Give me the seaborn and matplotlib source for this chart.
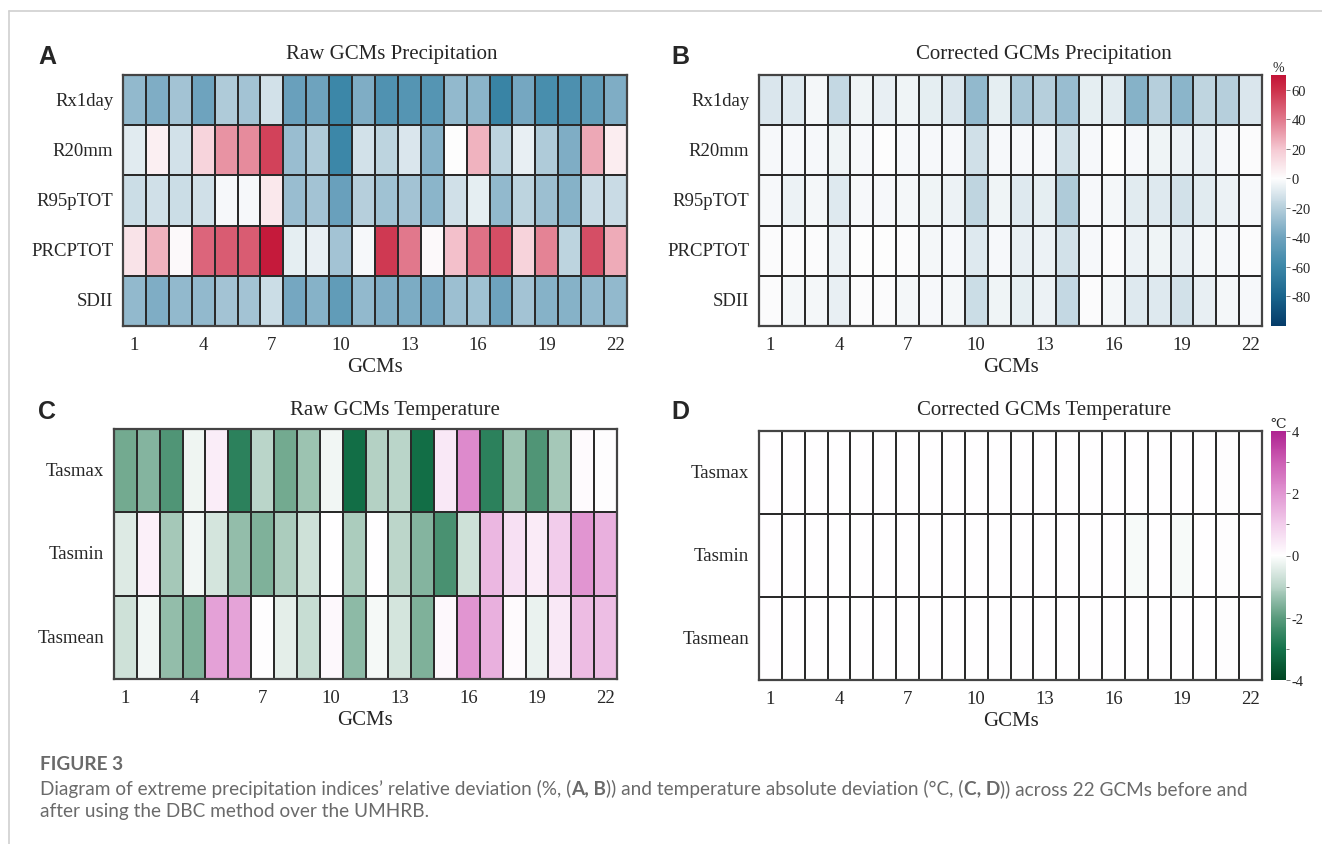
import numpy as np
import pandas as pd
import seaborn as sns
import matplotlib
matplotlib.use('Agg')
import matplotlib.pyplot as plt
from matplotlib.colors import LinearSegmentedColormap
from matplotlib.lines import Line2D
from matplotlib.ticker import MultipleLocator

sns.set_style('white')
plt.rcParams['font.family'] = ['Liberation Serif', 'DejaVu Serif']
plt.rcParams['axes.unicode_minus'] = False

gcms = [str(i) for i in range(1, 23)]
prec_indices = ['Rx1day', 'R20mm', 'R95pTOT', 'PRCPTOT', 'SDII']
temp_indices = ['Tasmax', 'Tasmin', 'Tasmean']

# raw precipitation relative deviation (%)
raw_rx1day = [-30, -35, -25, -40, -22, -25, -12, -42, -40, -60, -35, -52, -50, -50, -30, -32, -62, -38, -55, -53, -45, -35]
raw_r20mm = [-8, 5, -12, 15, 33, 35, 55, -28, -22, -60, -12, -18, -10, -33, 0, 25, -18, -6, -22, -35, 28, 6]
raw_r95ptot = [-14, -13, -14, -13, -2, -2, 8, -28, -25, -42, -20, -26, -25, -32, -13, -7, -30, -18, -27, -33, -15, -15]
raw_prcptot = [10, 25, 1, 45, 48, 48, 68, -7, -6, -25, -2, 58, 40, 1, 22, 42, 52, 16, 37, -18, 52, 27]
raw_sdii = [-30, -35, -30, -30, -25, -25, -14, -38, -33, -45, -30, -35, -36, -38, -27, -26, -40, -25, -33, -33, -30, -30]

# corrected precipitation relative deviation (%)
cor_rx1day = [-10, -9, -3, -16, -4, -6, -4, -7, -10, -30, -7, -24, -20, -28, -7, -8, -33, -20, -32, -17, -20, -10]
cor_r20mm = [-2, -2, -2, -4, -2, 0, -2, -2, -2, -13, -2, -2, -2, -12, -2, 0, -2, -4, -5, -6, -2, -1]
cor_r95ptot = [-2, -5, -3, -9, -2, -2, -3, -4, -5, -17, -4, -9, -7, -22, -2, -3, -8, -9, -12, -8, -5, -2]
cor_prcptot = [-1, -1, -1, -5, 0, 0, -1, -3, -2, -9, -2, -6, -5, -12, -2, -1, -5, -4, -6, -3, -2, -1]
cor_sdii = [-1, -3, -3, -6, -1, -1, -3, -2, -3, -14, -4, -7, -5, -16, -1, -3, -9, -9, -12, -6, -3, -2]

# raw temperature absolute deviation (degC)
raw_tasmax = [-1.75, -1.55, -2.15, -0.25, 0.35, -2.65, -1.0, -1.75, -1.3, -0.2, -3.1, -1.05, -1.0, -3.1, 0.45, 2.2, -2.65, -1.3, -2.15, -1.2, 0.1, 0.05]
raw_tasmin = [-0.5, 0.3, -1.2, -0.2, -0.6, -1.4, -1.6, -1.15, -0.7, 0.0, -1.15, 0.0, -0.95, -1.55, -2.25, -0.7, 1.4, 0.6, 0.4, 1.0, 2.0, 1.5]
raw_tasmean = [-0.7, -0.2, -1.4, -1.6, 1.8, 1.75, 0.05, -0.4, -0.8, 0.15, -1.45, -0.15, -0.6, -1.6, 0.15, 2.0, 1.5, 0.1, -0.3, 0.45, 1.3, 1.25]

# corrected temperature absolute deviation (degC)
cor_tasmax = [0, 0, 0, 0, 0, 0, 0, 0, 0, 0, 0, 0, 0, 0, 0, 0, 0, 0, 0, 0, 0.05, 0]
cor_tasmin = [0, 0, 0, 0, 0, 0, 0, 0, 0, 0, 0, 0, 0, 0, 0, 0, -0.1, 0, -0.1, 0, 0.05, 0]
cor_tasmean = [0, 0, 0, 0, 0, 0, 0, 0, 0, 0, 0, 0, 0, 0, 0, 0, 0, 0, 0, 0, 0.05, 0]

raw_prec = pd.DataFrame([raw_rx1day, raw_r20mm, raw_r95ptot, raw_prcptot, raw_sdii], index=prec_indices, columns=gcms)
cor_prec = pd.DataFrame([cor_rx1day, cor_r20mm, cor_r95ptot, cor_prcptot, cor_sdii], index=prec_indices, columns=gcms)
raw_temp = pd.DataFrame([raw_tasmax, raw_tasmin, raw_tasmean], index=temp_indices, columns=gcms)
cor_temp = pd.DataFrame([cor_tasmax, cor_tasmin, cor_tasmean], index=temp_indices, columns=gcms)


def make_cmap(name, nodes, vmin, vmax):
    return LinearSegmentedColormap.from_list(
        name, [((v - vmin) / (vmax - vmin), tuple(c / 255 for c in rgb)) for v, rgb in nodes])


prec_cmap = make_cmap('prec', [
    (-100, (5, 60, 105)), (-80, (25, 100, 140)), (-60, (60, 135, 168)),
    (-40, (110, 163, 190)), (-20, (182, 207, 220)), (0, (253, 253, 253)),
    (20, (245, 200, 210)), (40, (225, 120, 140)), (60, (205, 50, 75)),
    (70, (195, 20, 55))], -100, 70)
temp_cmap = make_cmap('temp', [
    (-4, (0, 70, 35)), (-3, (20, 115, 75)), (-2, (90, 155, 125)),
    (-1, (185, 212, 200)), (0, (255, 255, 255)), (1, (242, 205, 235)),
    (2, (225, 150, 210)), (3, (205, 95, 180)), (4, (175, 35, 145))], -4, 4)

W, H = 1322, 845
fig = plt.figure(figsize=(W / 100, H / 100), dpi=100)


def px_axes(left, top, right, bottom):
    return fig.add_axes([left / W, 1 - bottom / H, (right - left) / W, (bottom - top) / H])


ax_a = px_axes(123, 76, 627, 327)
ax_b = px_axes(759, 76, 1262, 327)
ax_c = px_axes(114, 430, 617, 680)
ax_d = px_axes(759, 432, 1262, 681)
cax_p = px_axes(1271, 76, 1286, 327)
cax_t = px_axes(1271, 432, 1286, 681)

panels = [
    (ax_a, raw_prec, prec_cmap, -100, 70, None),
    (ax_b, cor_prec, prec_cmap, -100, 70, cax_p),
    (ax_c, raw_temp, temp_cmap, -4, 4, None),
    (ax_d, cor_temp, temp_cmap, -4, 4, cax_t),
]

tick_pos = [i + 0.5 for i in range(0, 22, 3)]
tick_lab = [gcms[i] for i in range(0, 22, 3)]

for ax, df, cmap, vmin, vmax, cax in panels:
    sns.heatmap(df, ax=ax, cmap=cmap, vmin=vmin, vmax=vmax,
                cbar=cax is not None, cbar_ax=cax,
                linewidths=1.1, linecolor='#2a2a2a')
    for sp in ax.spines.values():
        sp.set_visible(True)
        sp.set_linewidth(1.6)
        sp.set_color('#444444')
    ax.set_xticks(tick_pos)
    ax.set_xticklabels(tick_lab, rotation=0, fontsize=13.5)
    ax.set_yticklabels(df.index, rotation=0, fontsize=13.5)
    ax.tick_params(length=0, pad=7)
    ax.set_xlabel('GCMs', fontsize=15, labelpad=3)
    ax.set_ylabel('')

for cax, ticks, minor, unit in [(cax_p, range(-80, 61, 20), None, '%'),
                                (cax_t, range(-4, 5, 2), 1, '℃')]:
    cax.set_yticks(list(ticks))
    if minor:
        cax.yaxis.set_minor_locator(MultipleLocator(minor))
    cax.tick_params(which='both', right=True, length=3, width=0.6, color='#666666',
                    labelsize=10.5, pad=1)
    cax.tick_params(which='minor', length=2)
    for sp in cax.spines.values():
        sp.set_visible(False)
    cax.set_title(unit, fontsize=10, pad=3)

# titles and panel letters
fig.text(392 / W, 1 - 55 / H, 'Raw GCMs Precipitation', ha='center', va='center', fontsize=15)
fig.text(1044 / W, 1 - 55 / H, 'Corrected GCMs Precipitation', ha='center', va='center', fontsize=15)
fig.text(395 / W, 1 - 411 / H, 'Raw GCMs Temperature', ha='center', va='center', fontsize=15)
fig.text(1044 / W, 1 - 411 / H, 'Corrected GCMs Temperature', ha='center', va='center', fontsize=15)
for lab, x, y in [('A', 47, 57), ('B', 680, 57), ('C', 47, 412), ('D', 680, 412)]:
    fig.text(x / W, 1 - y / H, lab, ha='center', va='center', fontsize=18,
             fontweight='bold', family='Liberation Sans')

# page frame
fig.add_artist(Line2D([9 / W, 1], [1 - 12 / H, 1 - 12 / H], color='#d0d0d0', lw=1.2))
fig.add_artist(Line2D([9 / W, 9 / W], [0, 1 - 12 / H], color='#d0d0d0', lw=1.2))

# caption
cap_kw = dict(family='Lato', fontsize=13.7, color='#6a6a6a', va='center')
fig.text(40 / W, 1 - 765 / H, 'FIGURE 3', fontweight='bold', **cap_kw)
renderer = fig.canvas.get_renderer()


def rich_line(x, y, parts):
    for s, w in parts:
        t = fig.text(x / W, 1 - y / H, s, fontweight=w, **cap_kw)
        x += t.get_window_extent(renderer=renderer).width


rich_line(40, 789, [
    ('Diagram of extreme precipitation indices\u2019 relative deviation (%, (', 'normal'),
    ('A, B', 'bold'),
    (')) and temperature absolute deviation (\u00b0C, (', 'normal'),
    ('C, D', 'bold'),
    (')) across 22 GCMs before and', 'normal'),
])
rich_line(40, 812, [('after using the DBC method over the UMHRB.', 'normal')])

fig.savefig('out.png', dpi=100)
